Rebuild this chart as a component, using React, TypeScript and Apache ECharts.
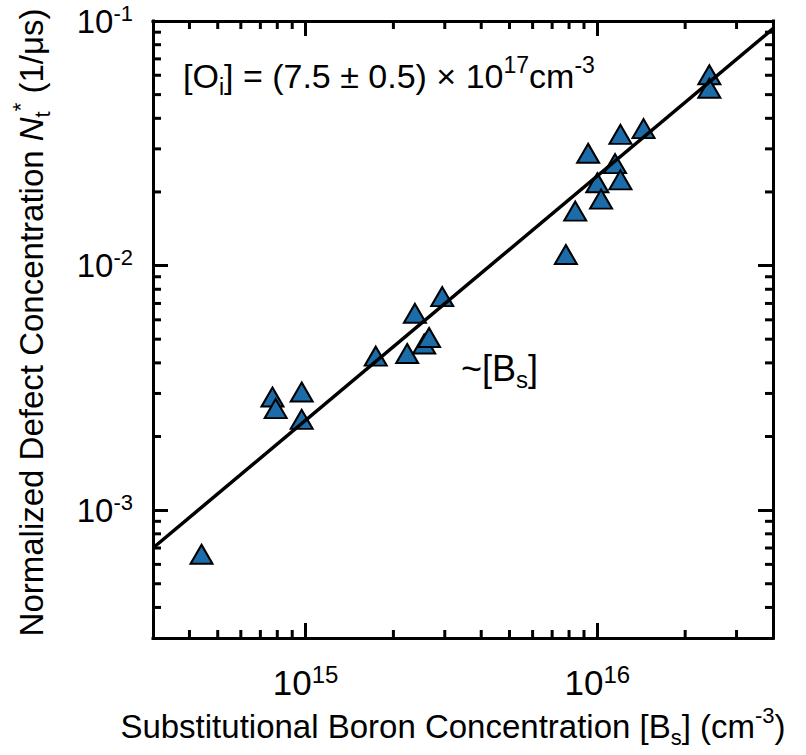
import React, { useEffect, useRef } from 'react';
import * as echarts from 'echarts';

// Substitutional boron concentration [Bs] (cm^-3)
const boronConc = [
  4.4e14, 7.7e14, 7.9e14, 9.7e14, 9.7e14,
  1.74e15, 2.23e15, 2.37e15, 2.55e15, 2.65e15, 2.94e15,
  7.8e15, 8.4e15, 9.3e15, 1.0e16, 1.03e16, 1.15e16, 1.2e16, 1.2e16, 1.44e16,
  2.42e16, 2.42e16,
];
// Normalized defect concentration Nt* (1/us)
const defectConc = [
  6.6e-4, 2.9e-3, 2.6e-3, 3.04e-3, 2.35e-3,
  4.26e-3, 4.37e-3, 6.38e-3, 4.78e-3, 5.08e-3, 7.46e-3,
  1.11e-2, 1.67e-2, 2.88e-2, 2.18e-2, 1.87e-2, 2.61e-2, 2.24e-2, 3.44e-2, 3.63e-2,
  6.03e-2, 5.31e-2,
];
// Linear fit (~[Bs]) end points
const fitX = [3e14, 4e16];
const fitY = [7.0e-4, 9.3e-2];

const xRange = [3e14, 4e16];
const yRange = [3e-4, 1e-1];
const xMinorTicks = [
  4e14, 5e14, 6e14, 7e14, 8e14, 9e14,
  2e15, 3e15, 4e15, 5e15, 6e15, 7e15, 8e15, 9e15,
  2e16, 3e16,
];
const yMinorTicks = [
  4e-4, 5e-4, 6e-4, 7e-4, 8e-4, 9e-4,
  2e-3, 3e-3, 4e-3, 5e-3, 6e-3, 7e-3, 8e-3, 9e-3,
  2e-2, 3e-2, 4e-2, 5e-2, 6e-2, 7e-2, 8e-2, 9e-2,
];

const FONT = '"Liberation Sans", Arial, Helvetica, sans-serif';
const MAJOR_LEN = 15;
const MINOR_LEN = 8;
const AXIS_W = 3;

const isPow10 = (v: number) => {
  const e = Math.log10(v);
  return Math.abs(e - Math.round(e)) < 1e-6;
};
const expLabel = (v: number) => (isPow10(v) ? `{b|10}{s|${Math.round(Math.log10(v))}}` : '');

const makeTickRich = (fs: number, sup: number) => ({
  b: { fontSize: fs, lineHeight: fs + 5, fontFamily: FONT, color: '#000' },
  s: { fontSize: sup, lineHeight: sup - 6, verticalAlign: 'top', fontFamily: FONT, color: '#000' },
});
const makeRich = (fs: number, sup: number) => ({
  n: { fontSize: fs, lineHeight: fs + 11, fontFamily: FONT, color: '#000' },
  i: { fontSize: fs, lineHeight: fs + 11, fontFamily: FONT, fontStyle: 'italic', color: '#000' },
  sup: { fontSize: sup, lineHeight: sup - 4, verticalAlign: 'top', fontFamily: FONT, color: '#000' },
  sub: { fontSize: sup, lineHeight: sup - 6, verticalAlign: 'bottom', fontFamily: FONT, color: '#000' },
});
const titleRich = makeRich(33, 22);
const noteRich = makeRich(34, 23);
const slopeRich = makeRich(36, 24);

const axisCommon = {
  type: 'log' as const,
  logBase: 10,
  splitLine: { show: false },
  axisLine: { show: true, lineStyle: { color: '#000', width: AXIS_W, cap: 'square' } },
  axisTick: { show: true, inside: true, length: MAJOR_LEN, lineStyle: { color: '#000', width: AXIS_W } },
  minorTick: { show: false },
};

export default function App() {
  const ref = useRef<HTMLDivElement>(null);
  useEffect(() => {
    if (!ref.current) return;
    const chart = echarts.init(ref.current, undefined, { renderer: 'svg' });
    const tickLine = (x1: number, y1: number, x2: number, y2: number) => ({
      type: 'line',
      shape: { x1, y1, x2, y2 },
      style: { stroke: '#000', lineWidth: AXIS_W },
    });
    chart.setOption({
      animation: false,
      backgroundColor: '#fff',
      textStyle: { fontFamily: FONT, color: '#000' },
      grid: {
        left: 153,
        top: 21,
        right: 33,
        bottom: 117,
        containLabel: false,
        outerBoundsMode: 'none',
      },
      xAxis: [
        {
          ...axisCommon,
          min: xRange[0],
          max: xRange[1],
          position: 'bottom',
          axisLabel: { margin: 24, formatter: expLabel, rich: makeTickRich(35, 24) },
          name: '{n|Substitutional Boron Concentration [B}{sub|s}{n|] (cm}{sup|-3}{n|)}',
          nameLocation: 'middle',
          nameGap: 65,
          nameTextStyle: { rich: titleRich, padding: [0, 20, 0, 0] },
        },
        {
          ...axisCommon,
          min: xRange[0],
          max: xRange[1],
          position: 'top',
          axisLabel: { show: false },
        },
      ],
      yAxis: [
        {
          ...axisCommon,
          min: yRange[0],
          max: yRange[1],
          position: 'left',
          axisLabel: { margin: 20, formatter: expLabel, rich: makeTickRich(33, 22) },
          name: '{n|Normalized Defect Concentration }{i|N}{sub|t}{sup|*}{n| (1/μs)}',
          nameLocation: 'middle',
          nameGap: 100,
          nameTextStyle: { rich: titleRich, padding: [0, 0, 0, 14] },
        },
        {
          ...axisCommon,
          min: yRange[0],
          max: yRange[1],
          position: 'right',
          axisLabel: { show: false },
        },
      ],
      graphic: [
        {
          type: 'text',
          x: 183,
          y: 76,
          style: {
            text: '{n|[O}{sub|i}{n|] = (7.5 ± 0.5) × 10}{sup|17}{n|cm}{sup|-3}',
            rich: noteRich,
            verticalAlign: 'middle',
            align: 'left',
          },
          z: 10,
        },
        {
          type: 'text',
          x: 461,
          y: 368,
          style: {
            text: '{n|~[B}{sub|s}{n|]}',
            rich: slopeRich,
            verticalAlign: 'middle',
            align: 'left',
          },
          z: 10,
        },
      ],
      series: [
        {
          type: 'custom',
          name: 'x minor ticks',
          xAxisIndex: 0,
          yAxisIndex: 0,
          silent: true,
          clip: false,
          data: xMinorTicks.map((v) => [v, yRange[0]]),
          renderItem: (_p: any, api: any) => {
            const v = api.value(0);
            const b = api.coord([v, yRange[0]]);
            const t = api.coord([v, yRange[1]]);
            return {
              type: 'group',
              children: [
                tickLine(b[0], b[1], b[0], b[1] - MINOR_LEN),
                tickLine(t[0], t[1], t[0], t[1] + MINOR_LEN),
              ],
            };
          },
          z: 5,
        },
        {
          type: 'custom',
          name: 'y minor ticks',
          xAxisIndex: 0,
          yAxisIndex: 0,
          silent: true,
          clip: false,
          data: yMinorTicks.map((v) => [xRange[0], v]),
          renderItem: (_p: any, api: any) => {
            const v = api.value(1);
            const l = api.coord([xRange[0], v]);
            const r = api.coord([xRange[1], v]);
            return {
              type: 'group',
              children: [
                tickLine(l[0], l[1], l[0] + MINOR_LEN, l[1]),
                tickLine(r[0], r[1], r[0] - MINOR_LEN, r[1]),
              ],
            };
          },
          z: 5,
        },
        {
          type: 'scatter',
          name: 'Nt*',
          symbol: 'triangle',
          symbolSize: [22, 19],
          itemStyle: { color: '#1b6ca8', borderColor: '#000', borderWidth: 2, opacity: 1 },
          data: boronConc.map((x, i) => [x, defectConc[i]]),
          z: 3,
        },
        {
          type: 'line',
          name: '~[Bs]',
          showSymbol: false,
          symbol: 'none',
          lineStyle: { color: '#000', width: 3.5 },
          data: fitX.map((x, i) => [x, fitY[i]]),
          z: 4,
        },
      ],
    });
    return () => chart.dispose();
  }, []);
  return (
    <div
      ref={ref}
      style={{ position: 'fixed', left: 0, top: 0, width: 806, height: 755, background: '#fff' }}
    />
  );
}
